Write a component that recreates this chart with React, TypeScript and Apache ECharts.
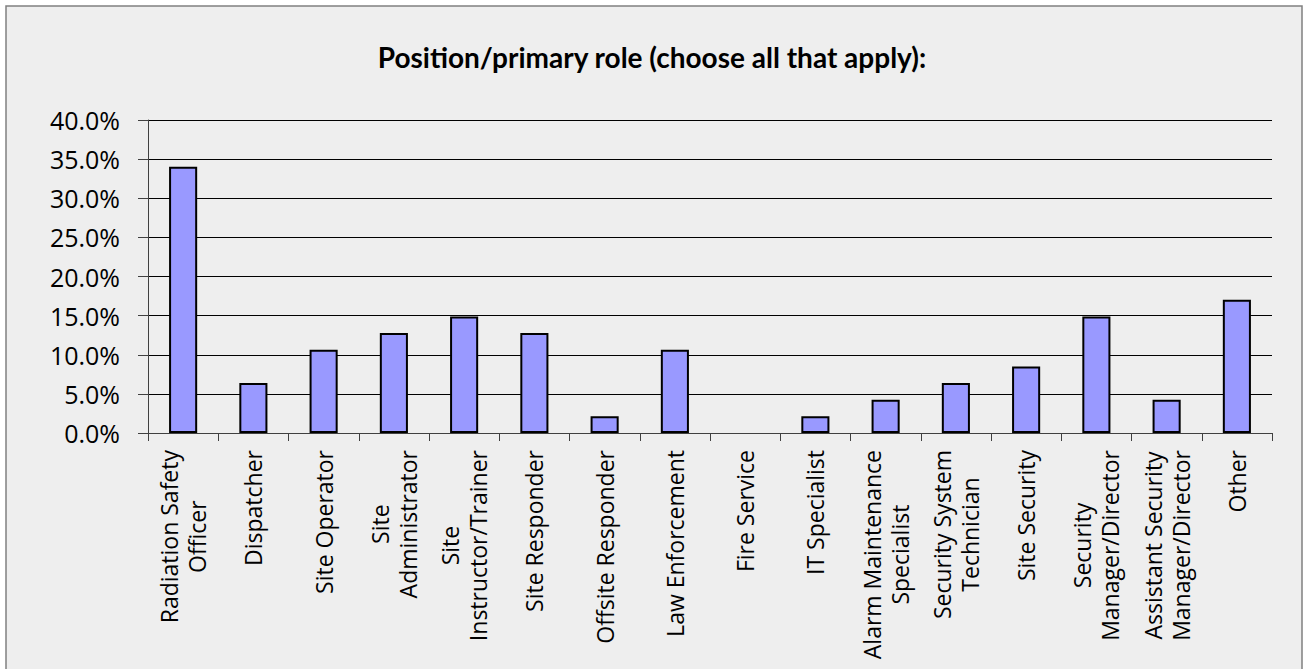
import React, { useEffect, useRef } from "react";
import * as echarts from "echarts";

const TITLE = "Position/primary role (choose all that apply):";

const categories: string[] = [
  "Radiation Safety\nOfficer",
  "Dispatcher",
  "Site Operator",
  "Site\nAdministrator",
  "Site\nInstructor/Trainer",
  "Site Responder",
  "Offsite Responder",
  "Law Enforcement",
  "Fire Service",
  "IT Specialist",
  "Alarm Maintenance\nSpecialist",
  "Security System\nTechnician",
  "Site Security",
  "Security\nManager/Director",
  "Assistant Security\nManager/Director",
  "Other",
];

const values: number[] = [
  34.04, 6.38, 10.64, 12.77, 14.89, 12.77, 2.13, 10.64, 0, 2.13, 4.26, 6.38,
  8.51, 14.89, 4.26, 17.02,
];

const yTicks: number[] = [0, 5, 10, 15, 20, 25, 30, 35, 40];

const FONT = "'Open Sans', 'Noto Sans', sans-serif";

export default function App() {
  const ref = useRef<HTMLDivElement>(null);

  useEffect(() => {
    if (!ref.current) return;
    const chart = echarts.init(ref.current, undefined, { renderer: "svg" });
    chart.setOption({
      animation: false,
      backgroundColor: "#ffffff",
      graphic: [
        {
          type: "rect",
          z: -10,
          silent: true,
          shape: { x: 6, y: 6, width: 1296, height: 720 },
          style: { fill: "#eeeeee", stroke: "#808080", lineWidth: 1.5 },
        },
      ],
      title: {
        text: TITLE,
        left: "center",
        top: 38,
        textStyle: {
          fontFamily: "Lato, 'Open Sans', sans-serif",
          fontWeight: "bold",
          fontSize: 28,
          color: "#000",
        },
      },
      grid: { left: 148, right: 32, top: 120, bottom: 236, containLabel: false },
      xAxis: {
        type: "category",
        data: categories,
        axisLine: { show: true, lineStyle: { color: "#404040", width: 1 } },
        axisTick: { show: true, length: 8, lineStyle: { color: "#404040" } },
        axisLabel: {
          interval: 0,
          rotate: 90,
          margin: 17,
          color: "#000",
          fontFamily: FONT,
          fontSize: 23,
          formatter: (v: string) =>
            v
              .split("\n")
              .map((l) => `{c|${l}}`)
              .join("\n"),
          rich: {
            c: {
              align: "center",
              fontFamily: FONT,
              fontSize: 23,
              lineHeight: 28,
              color: "#000",
            },
          },
        },
      },
      yAxis: {
        type: "value",
        min: yTicks[0],
        max: yTicks[yTicks.length - 1],
        interval: 5,
        axisLine: { show: true, lineStyle: { color: "#404040", width: 1 } },
        axisTick: { show: true, length: 10, lineStyle: { color: "#404040" } },
        splitLine: { show: true, lineStyle: { color: "#000", width: 1 } },
        axisLabel: {
          margin: 28,
          color: "#000",
          fontFamily: FONT,
          fontSize: 25,
          formatter: (v: number) => v.toFixed(1) + "%",
        },
      },
      series: [
        {
          type: "bar",
          data: values.map((v) =>
            v === 0 ? { value: v, itemStyle: { borderWidth: 0 } } : v
          ),
          barWidth: "40%",
          itemStyle: { color: "#9999ff", borderColor: "#000", borderWidth: 2 },
        },
      ],
    });
    return () => chart.dispose();
  }, []);

  return (
    <div
      ref={ref}
      style={{ position: "absolute", left: 0, top: 0, width: 1304, height: 669 }}
    />
  );
}
